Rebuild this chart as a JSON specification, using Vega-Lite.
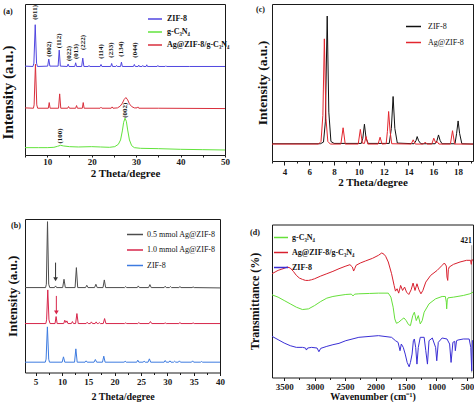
{
"$schema": "https://vega.github.io/schema/vega-lite/v6.json",
"padding": {"left": 0, "top": 3, "right": 0, "bottom": 0},
"config": {
  "font": "Liberation Serif",
  "view": {"stroke": "#1a1a1a", "strokeWidth": 1},
  "axis": {"grid": false, "domain": false, "labelFont": "Liberation Serif", "labelFontWeight": "bold", "labelFontSize": 9, "labelColor": "#1a1a1a", "titleFont": "Liberation Serif", "titleFontWeight": "bold", "titleColor": "#111111", "tickColor": "#1a1a1a", "labelOverlap": false, "labelFlush": false, "minExtent": 0},
  "text": {"font": "Liberation Serif", "fontWeight": "bold", "color": "#111111"}
},
"datasets": {
  "a": [
    {"s":"ZIF-8","x":5,"y":266},{"s":"ZIF-8","x":6.8,"y":265},{"s":"ZIF-8","x":7.0,"y":275},{"s":"ZIF-8","x":7.3,"y":390},{"s":"ZIF-8","x":7.6,"y":275},{"s":"ZIF-8","x":7.8,"y":265},
    {"s":"ZIF-8","x":10.1,"y":266},{"s":"ZIF-8","x":10.35,"y":287},{"s":"ZIF-8","x":10.6,"y":266},{"s":"ZIF-8","x":12.45,"y":266},{"s":"ZIF-8","x":12.7,"y":314},{"s":"ZIF-8","x":12.95,"y":266},
    {"s":"ZIF-8","x":14.5,"y":265},{"s":"ZIF-8","x":14.7,"y":272},{"s":"ZIF-8","x":14.9,"y":265},{"s":"ZIF-8","x":16.2,"y":265},{"s":"ZIF-8","x":16.4,"y":276},{"s":"ZIF-8","x":16.6,"y":265},
    {"s":"ZIF-8","x":17.75,"y":265},{"s":"ZIF-8","x":18.0,"y":290},{"s":"ZIF-8","x":18.25,"y":265},{"s":"ZIF-8","x":19.25,"y":265},{"s":"ZIF-8","x":19.4,"y":268},{"s":"ZIF-8","x":19.55,"y":265},
    {"s":"ZIF-8","x":21.9,"y":265},{"s":"ZIF-8","x":22.1,"y":271},{"s":"ZIF-8","x":22.3,"y":265},{"s":"ZIF-8","x":24.3,"y":265},{"s":"ZIF-8","x":24.5,"y":274},{"s":"ZIF-8","x":24.7,"y":265},
    {"s":"ZIF-8","x":25.45,"y":265},{"s":"ZIF-8","x":25.6,"y":268},{"s":"ZIF-8","x":25.75,"y":265},{"s":"ZIF-8","x":26.5,"y":265},{"s":"ZIF-8","x":26.7,"y":278},{"s":"ZIF-8","x":26.9,"y":265},
    {"s":"ZIF-8","x":29.4,"y":265},{"s":"ZIF-8","x":29.6,"y":271},{"s":"ZIF-8","x":29.8,"y":265},{"s":"ZIF-8","x":30.45,"y":265},{"s":"ZIF-8","x":30.6,"y":269},{"s":"ZIF-8","x":30.75,"y":265},
    {"s":"ZIF-8","x":31.35,"y":265},{"s":"ZIF-8","x":31.5,"y":268},{"s":"ZIF-8","x":31.65,"y":265},{"s":"ZIF-8","x":32.25,"y":265},{"s":"ZIF-8","x":32.4,"y":270},{"s":"ZIF-8","x":32.55,"y":265},
    {"s":"ZIF-8","x":34.75,"y":265},{"s":"ZIF-8","x":34.9,"y":268},{"s":"ZIF-8","x":35.05,"y":265},{"s":"ZIF-8","x":36.55,"y":265},{"s":"ZIF-8","x":36.7,"y":267},{"s":"ZIF-8","x":36.85,"y":265},
    {"s":"ZIF-8","x":42,"y":265},{"s":"ZIF-8","x":50,"y":265},
    {"s":"Ag@ZIF-8/g-C₃N₄","x":5,"y":141},{"s":"Ag@ZIF-8/g-C₃N₄","x":6.9,"y":140},{"s":"Ag@ZIF-8/g-C₃N₄","x":7.05,"y":150},{"s":"Ag@ZIF-8/g-C₃N₄","x":7.35,"y":272},{"s":"Ag@ZIF-8/g-C₃N₄","x":7.65,"y":150},{"s":"Ag@ZIF-8/g-C₃N₄","x":7.85,"y":140},
    {"s":"Ag@ZIF-8/g-C₃N₄","x":10.25,"y":140},{"s":"Ag@ZIF-8/g-C₃N₄","x":10.45,"y":157},{"s":"Ag@ZIF-8/g-C₃N₄","x":10.65,"y":140},{"s":"Ag@ZIF-8/g-C₃N₄","x":12.55,"y":140},{"s":"Ag@ZIF-8/g-C₃N₄","x":12.8,"y":183},{"s":"Ag@ZIF-8/g-C₃N₄","x":13.05,"y":140},
    {"s":"Ag@ZIF-8/g-C₃N₄","x":14.6,"y":140},{"s":"Ag@ZIF-8/g-C₃N₄","x":14.8,"y":145},{"s":"Ag@ZIF-8/g-C₃N₄","x":15.0,"y":140},{"s":"Ag@ZIF-8/g-C₃N₄","x":16.4,"y":140},{"s":"Ag@ZIF-8/g-C₃N₄","x":16.6,"y":148},{"s":"Ag@ZIF-8/g-C₃N₄","x":16.8,"y":140},
    {"s":"Ag@ZIF-8/g-C₃N₄","x":17.9,"y":140},{"s":"Ag@ZIF-8/g-C₃N₄","x":18.1,"y":157},{"s":"Ag@ZIF-8/g-C₃N₄","x":18.3,"y":140},{"s":"Ag@ZIF-8/g-C₃N₄","x":21.9,"y":140},{"s":"Ag@ZIF-8/g-C₃N₄","x":22.1,"y":143},{"s":"Ag@ZIF-8/g-C₃N₄","x":22.3,"y":140},
    {"s":"Ag@ZIF-8/g-C₃N₄","x":24.4,"y":140},{"s":"Ag@ZIF-8/g-C₃N₄","x":24.6,"y":144},{"s":"Ag@ZIF-8/g-C₃N₄","x":24.8,"y":140},{"s":"Ag@ZIF-8/g-C₃N₄","x":25.8,"y":141},{"s":"Ag@ZIF-8/g-C₃N₄","x":26.4,"y":146},{"s":"Ag@ZIF-8/g-C₃N₄","x":26.9,"y":155},
    {"s":"Ag@ZIF-8/g-C₃N₄","x":27.3,"y":166},{"s":"Ag@ZIF-8/g-C₃N₄","x":27.7,"y":172},{"s":"Ag@ZIF-8/g-C₃N₄","x":28.1,"y":165},{"s":"Ag@ZIF-8/g-C₃N₄","x":28.5,"y":153},{"s":"Ag@ZIF-8/g-C₃N₄","x":29.0,"y":145},{"s":"Ag@ZIF-8/g-C₃N₄","x":29.6,"y":141},
    {"s":"Ag@ZIF-8/g-C₃N₄","x":30.2,"y":141},{"s":"Ag@ZIF-8/g-C₃N₄","x":30.4,"y":144},{"s":"Ag@ZIF-8/g-C₃N₄","x":30.6,"y":140},{"s":"Ag@ZIF-8/g-C₃N₄","x":35,"y":140},{"s":"Ag@ZIF-8/g-C₃N₄","x":50,"y":139},
    {"s":"g-C₃N₄","x":5,"y":22},{"s":"g-C₃N₄","x":8,"y":22},{"s":"g-C₃N₄","x":10,"y":22},{"s":"g-C₃N₄","x":11.5,"y":23},{"s":"g-C₃N₄","x":12.3,"y":26},{"s":"g-C₃N₄","x":13.0,"y":29},{"s":"g-C₃N₄","x":13.7,"y":27},
    {"s":"g-C₃N₄","x":15,"y":25},{"s":"g-C₃N₄","x":17,"y":24},{"s":"g-C₃N₄","x":20,"y":25},{"s":"g-C₃N₄","x":22,"y":24},{"s":"g-C₃N₄","x":24,"y":23},{"s":"g-C₃N₄","x":25.2,"y":25},{"s":"g-C₃N₄","x":26.0,"y":32},
    {"s":"g-C₃N₄","x":26.5,"y":45},{"s":"g-C₃N₄","x":26.9,"y":72},{"s":"g-C₃N₄","x":27.2,"y":98},{"s":"g-C₃N₄","x":27.5,"y":110},{"s":"g-C₃N₄","x":27.8,"y":101},{"s":"g-C₃N₄","x":28.1,"y":75},{"s":"g-C₃N₄","x":28.5,"y":45},
    {"s":"g-C₃N₄","x":29.0,"y":28},{"s":"g-C₃N₄","x":29.6,"y":22},{"s":"g-C₃N₄","x":31,"y":20},{"s":"g-C₃N₄","x":35,"y":19},{"s":"g-C₃N₄","x":40,"y":17},{"s":"g-C₃N₄","x":45,"y":16},{"s":"g-C₃N₄","x":50,"y":15}
  ],
  "aLab": [
    {"t":"(011)","x":7.3,"y":427},{"t":"(002)","x":10.3,"y":317},{"t":"(112)","x":12.7,"y":342},{"t":"(022)","x":14.8,"y":304},{"t":"(013)","x":16.4,"y":310},{"t":"(222)","x":18.1,"y":337},
    {"t":"(114)","x":22.2,"y":310},{"t":"(233)","x":24.4,"y":314},{"t":"(134)","x":26.6,"y":317},{"t":"(044)","x":29.8,"y":314},{"t":"(100)","x":12.9,"y":57},{"t":"(002)","x":27.6,"y":134}
  ],
  "b": [
    {"s":"0.5 mmol Ag@ZIF-8","x":3,"y":255},{"s":"0.5 mmol Ag@ZIF-8","x":6.9,"y":255},{"s":"0.5 mmol Ag@ZIF-8","x":7.05,"y":265},{"s":"0.5 mmol Ag@ZIF-8","x":7.27,"y":453},{"s":"0.5 mmol Ag@ZIF-8","x":7.5,"y":265},{"s":"0.5 mmol Ag@ZIF-8","x":7.7,"y":255},
    {"s":"0.5 mmol Ag@ZIF-8","x":8.6,"y":255},{"s":"0.5 mmol Ag@ZIF-8","x":8.8,"y":260},{"s":"0.5 mmol Ag@ZIF-8","x":9.0,"y":255},{"s":"0.5 mmol Ag@ZIF-8","x":10.15,"y":255},{"s":"0.5 mmol Ag@ZIF-8","x":10.4,"y":280},{"s":"0.5 mmol Ag@ZIF-8","x":10.65,"y":255},
    {"s":"0.5 mmol Ag@ZIF-8","x":12.5,"y":255},{"s":"0.5 mmol Ag@ZIF-8","x":12.75,"y":315},{"s":"0.5 mmol Ag@ZIF-8","x":13.0,"y":255},{"s":"0.5 mmol Ag@ZIF-8","x":14.5,"y":255},{"s":"0.5 mmol Ag@ZIF-8","x":14.72,"y":262},{"s":"0.5 mmol Ag@ZIF-8","x":14.95,"y":255},
    {"s":"0.5 mmol Ag@ZIF-8","x":16.2,"y":255},{"s":"0.5 mmol Ag@ZIF-8","x":16.45,"y":265},{"s":"0.5 mmol Ag@ZIF-8","x":16.7,"y":255},{"s":"0.5 mmol Ag@ZIF-8","x":17.8,"y":255},{"s":"0.5 mmol Ag@ZIF-8","x":18.05,"y":278},{"s":"0.5 mmol Ag@ZIF-8","x":18.3,"y":255},
    {"s":"0.5 mmol Ag@ZIF-8","x":21.9,"y":255},{"s":"0.5 mmol Ag@ZIF-8","x":22.1,"y":258},{"s":"0.5 mmol Ag@ZIF-8","x":22.3,"y":255},{"s":"0.5 mmol Ag@ZIF-8","x":24.3,"y":255},{"s":"0.5 mmol Ag@ZIF-8","x":24.5,"y":260},{"s":"0.5 mmol Ag@ZIF-8","x":24.7,"y":255},
    {"s":"0.5 mmol Ag@ZIF-8","x":26.45,"y":255},{"s":"0.5 mmol Ag@ZIF-8","x":26.7,"y":264},{"s":"0.5 mmol Ag@ZIF-8","x":26.95,"y":255},{"s":"0.5 mmol Ag@ZIF-8","x":29.4,"y":255},{"s":"0.5 mmol Ag@ZIF-8","x":29.6,"y":259},{"s":"0.5 mmol Ag@ZIF-8","x":29.8,"y":255},
    {"s":"0.5 mmol Ag@ZIF-8","x":30.4,"y":255},{"s":"0.5 mmol Ag@ZIF-8","x":30.6,"y":258},{"s":"0.5 mmol Ag@ZIF-8","x":30.8,"y":255},{"s":"0.5 mmol Ag@ZIF-8","x":32.2,"y":255},{"s":"0.5 mmol Ag@ZIF-8","x":32.4,"y":258},{"s":"0.5 mmol Ag@ZIF-8","x":32.6,"y":255},
    {"s":"0.5 mmol Ag@ZIF-8","x":34.7,"y":255},{"s":"0.5 mmol Ag@ZIF-8","x":34.9,"y":257},{"s":"0.5 mmol Ag@ZIF-8","x":35.1,"y":255},{"s":"0.5 mmol Ag@ZIF-8","x":40,"y":254},
    {"s":"1.0 mmol Ag@ZIF-8","x":3,"y":147},{"s":"1.0 mmol Ag@ZIF-8","x":6.95,"y":147},{"s":"1.0 mmol Ag@ZIF-8","x":7.1,"y":158},{"s":"1.0 mmol Ag@ZIF-8","x":7.32,"y":248},{"s":"1.0 mmol Ag@ZIF-8","x":7.55,"y":158},{"s":"1.0 mmol Ag@ZIF-8","x":7.75,"y":147},
    {"s":"1.0 mmol Ag@ZIF-8","x":8.7,"y":147},{"s":"1.0 mmol Ag@ZIF-8","x":8.9,"y":168},{"s":"1.0 mmol Ag@ZIF-8","x":9.1,"y":147},{"s":"1.0 mmol Ag@ZIF-8","x":10.35,"y":147},{"s":"1.0 mmol Ag@ZIF-8","x":10.55,"y":157},{"s":"1.0 mmol Ag@ZIF-8","x":10.75,"y":150},
    {"s":"1.0 mmol Ag@ZIF-8","x":10.95,"y":155},{"s":"1.0 mmol Ag@ZIF-8","x":11.15,"y":147},{"s":"1.0 mmol Ag@ZIF-8","x":11.8,"y":147},{"s":"1.0 mmol Ag@ZIF-8","x":12.0,"y":153},{"s":"1.0 mmol Ag@ZIF-8","x":12.2,"y":147},{"s":"1.0 mmol Ag@ZIF-8","x":12.6,"y":147},
    {"s":"1.0 mmol Ag@ZIF-8","x":12.85,"y":177},{"s":"1.0 mmol Ag@ZIF-8","x":13.1,"y":147},{"s":"1.0 mmol Ag@ZIF-8","x":14.6,"y":147},{"s":"1.0 mmol Ag@ZIF-8","x":14.8,"y":151},{"s":"1.0 mmol Ag@ZIF-8","x":15.0,"y":147},{"s":"1.0 mmol Ag@ZIF-8","x":15.4,"y":147},
    {"s":"1.0 mmol Ag@ZIF-8","x":15.6,"y":152},{"s":"1.0 mmol Ag@ZIF-8","x":15.8,"y":147},{"s":"1.0 mmol Ag@ZIF-8","x":16.3,"y":147},{"s":"1.0 mmol Ag@ZIF-8","x":16.5,"y":152},{"s":"1.0 mmol Ag@ZIF-8","x":16.7,"y":147},{"s":"1.0 mmol Ag@ZIF-8","x":16.9,"y":147},
    {"s":"1.0 mmol Ag@ZIF-8","x":17.1,"y":150},{"s":"1.0 mmol Ag@ZIF-8","x":17.3,"y":147},{"s":"1.0 mmol Ag@ZIF-8","x":17.85,"y":147},{"s":"1.0 mmol Ag@ZIF-8","x":18.1,"y":162},{"s":"1.0 mmol Ag@ZIF-8","x":18.35,"y":147},{"s":"1.0 mmol Ag@ZIF-8","x":21.9,"y":147},
    {"s":"1.0 mmol Ag@ZIF-8","x":22.1,"y":149},{"s":"1.0 mmol Ag@ZIF-8","x":22.3,"y":147},{"s":"1.0 mmol Ag@ZIF-8","x":24.4,"y":147},{"s":"1.0 mmol Ag@ZIF-8","x":24.6,"y":150},{"s":"1.0 mmol Ag@ZIF-8","x":24.8,"y":147},{"s":"1.0 mmol Ag@ZIF-8","x":26.55,"y":147},
    {"s":"1.0 mmol Ag@ZIF-8","x":26.8,"y":153},{"s":"1.0 mmol Ag@ZIF-8","x":27.05,"y":147},{"s":"1.0 mmol Ag@ZIF-8","x":29.4,"y":147},{"s":"1.0 mmol Ag@ZIF-8","x":29.6,"y":149},{"s":"1.0 mmol Ag@ZIF-8","x":29.8,"y":147},{"s":"1.0 mmol Ag@ZIF-8","x":32.2,"y":147},
    {"s":"1.0 mmol Ag@ZIF-8","x":32.4,"y":150},{"s":"1.0 mmol Ag@ZIF-8","x":32.6,"y":147},{"s":"1.0 mmol Ag@ZIF-8","x":34.7,"y":147},{"s":"1.0 mmol Ag@ZIF-8","x":34.9,"y":149},{"s":"1.0 mmol Ag@ZIF-8","x":35.1,"y":147},{"s":"1.0 mmol Ag@ZIF-8","x":40,"y":147},
    {"s":"ZIF-8","x":3,"y":31},{"s":"ZIF-8","x":6.85,"y":31},{"s":"ZIF-8","x":7.0,"y":40},{"s":"ZIF-8","x":7.25,"y":137},{"s":"ZIF-8","x":7.5,"y":40},{"s":"ZIF-8","x":7.65,"y":31},
    {"s":"ZIF-8","x":10.05,"y":31},{"s":"ZIF-8","x":10.3,"y":47},{"s":"ZIF-8","x":10.55,"y":31},{"s":"ZIF-8","x":12.4,"y":31},{"s":"ZIF-8","x":12.65,"y":71},{"s":"ZIF-8","x":12.9,"y":31},
    {"s":"ZIF-8","x":14.4,"y":31},{"s":"ZIF-8","x":14.6,"y":35},{"s":"ZIF-8","x":14.8,"y":31},{"s":"ZIF-8","x":16.1,"y":31},{"s":"ZIF-8","x":16.35,"y":39},{"s":"ZIF-8","x":16.6,"y":31},
    {"s":"ZIF-8","x":17.7,"y":31},{"s":"ZIF-8","x":17.95,"y":49},{"s":"ZIF-8","x":18.2,"y":31},{"s":"ZIF-8","x":21.8,"y":31},{"s":"ZIF-8","x":22.0,"y":34},{"s":"ZIF-8","x":22.2,"y":31},
    {"s":"ZIF-8","x":24.2,"y":31},{"s":"ZIF-8","x":24.4,"y":37},{"s":"ZIF-8","x":24.6,"y":31},{"s":"ZIF-8","x":25.4,"y":31},{"s":"ZIF-8","x":25.6,"y":34},{"s":"ZIF-8","x":25.8,"y":31},
    {"s":"ZIF-8","x":26.35,"y":31},{"s":"ZIF-8","x":26.6,"y":41},{"s":"ZIF-8","x":26.85,"y":31},{"s":"ZIF-8","x":29.4,"y":31},{"s":"ZIF-8","x":29.6,"y":36},{"s":"ZIF-8","x":29.8,"y":31},
    {"s":"ZIF-8","x":30.3,"y":31},{"s":"ZIF-8","x":30.5,"y":35},{"s":"ZIF-8","x":30.7,"y":31},{"s":"ZIF-8","x":31.2,"y":31},{"s":"ZIF-8","x":31.4,"y":34},{"s":"ZIF-8","x":31.6,"y":31},
    {"s":"ZIF-8","x":32.1,"y":31},{"s":"ZIF-8","x":32.3,"y":35},{"s":"ZIF-8","x":32.5,"y":31},{"s":"ZIF-8","x":34.6,"y":31},{"s":"ZIF-8","x":34.8,"y":35},{"s":"ZIF-8","x":35.0,"y":31},
    {"s":"ZIF-8","x":36.3,"y":31},{"s":"ZIF-8","x":36.5,"y":33},{"s":"ZIF-8","x":36.7,"y":31},{"s":"ZIF-8","x":40,"y":31}
  ],
  "c": [
    {"s":"ZIF-8","x":3,"y":53},{"s":"ZIF-8","x":6.9,"y":53},{"s":"ZIF-8","x":7.15,"y":58},{"s":"ZIF-8","x":7.3,"y":120},{"s":"ZIF-8","x":7.45,"y":445},{"s":"ZIF-8","x":7.58,"y":150},{"s":"ZIF-8","x":7.75,"y":60},{"s":"ZIF-8","x":8.0,"y":54},
    {"s":"ZIF-8","x":10.2,"y":54},{"s":"ZIF-8","x":10.32,"y":70},{"s":"ZIF-8","x":10.45,"y":113},{"s":"ZIF-8","x":10.58,"y":70},{"s":"ZIF-8","x":10.75,"y":54},
    {"s":"ZIF-8","x":12.45,"y":54},{"s":"ZIF-8","x":12.62,"y":100},{"s":"ZIF-8","x":12.76,"y":198},{"s":"ZIF-8","x":12.9,"y":100},{"s":"ZIF-8","x":13.1,"y":55},
    {"s":"ZIF-8","x":14.45,"y":53},{"s":"ZIF-8","x":14.6,"y":62},{"s":"ZIF-8","x":14.7,"y":75},{"s":"ZIF-8","x":14.82,"y":62},{"s":"ZIF-8","x":15.0,"y":53},
    {"s":"ZIF-8","x":16.15,"y":53},{"s":"ZIF-8","x":16.3,"y":63},{"s":"ZIF-8","x":16.42,"y":80},{"s":"ZIF-8","x":16.55,"y":63},{"s":"ZIF-8","x":16.7,"y":53},
    {"s":"ZIF-8","x":17.75,"y":53},{"s":"ZIF-8","x":17.88,"y":85},{"s":"ZIF-8","x":18.0,"y":123},{"s":"ZIF-8","x":18.12,"y":85},{"s":"ZIF-8","x":18.3,"y":53},{"s":"ZIF-8","x":19.2,"y":52},
    {"s":"Ag@ZIF-8","x":3,"y":52},{"s":"Ag@ZIF-8","x":6.75,"y":52},{"s":"Ag@ZIF-8","x":6.95,"y":60},{"s":"Ag@ZIF-8","x":7.1,"y":140},{"s":"Ag@ZIF-8","x":7.22,"y":375},{"s":"Ag@ZIF-8","x":7.35,"y":130},{"s":"Ag@ZIF-8","x":7.5,"y":60},{"s":"Ag@ZIF-8","x":7.7,"y":52},
    {"s":"Ag@ZIF-8","x":8.55,"y":52},{"s":"Ag@ZIF-8","x":8.73,"y":102},{"s":"Ag@ZIF-8","x":8.9,"y":52},{"s":"Ag@ZIF-8","x":9.95,"y":52},{"s":"Ag@ZIF-8","x":10.12,"y":97},{"s":"Ag@ZIF-8","x":10.28,"y":55},
    {"s":"Ag@ZIF-8","x":10.45,"y":54},{"s":"Ag@ZIF-8","x":10.58,"y":75},{"s":"Ag@ZIF-8","x":10.72,"y":52},{"s":"Ag@ZIF-8","x":11.55,"y":52},{"s":"Ag@ZIF-8","x":11.71,"y":73},{"s":"Ag@ZIF-8","x":11.87,"y":52},
    {"s":"Ag@ZIF-8","x":12.2,"y":53},{"s":"Ag@ZIF-8","x":12.3,"y":90},{"s":"Ag@ZIF-8","x":12.4,"y":152},{"s":"Ag@ZIF-8","x":12.52,"y":90},{"s":"Ag@ZIF-8","x":12.65,"y":53},
    {"s":"Ag@ZIF-8","x":14.22,"y":52},{"s":"Ag@ZIF-8","x":14.38,"y":65},{"s":"Ag@ZIF-8","x":14.55,"y":52},{"s":"Ag@ZIF-8","x":15.2,"y":52},{"s":"Ag@ZIF-8","x":15.35,"y":58},{"s":"Ag@ZIF-8","x":15.5,"y":52},
    {"s":"Ag@ZIF-8","x":15.88,"y":52},{"s":"Ag@ZIF-8","x":16.04,"y":70},{"s":"Ag@ZIF-8","x":16.2,"y":55},{"s":"Ag@ZIF-8","x":16.3,"y":60},{"s":"Ag@ZIF-8","x":16.45,"y":52},
    {"s":"Ag@ZIF-8","x":17.38,"y":52},{"s":"Ag@ZIF-8","x":17.55,"y":93},{"s":"Ag@ZIF-8","x":17.72,"y":52},{"s":"Ag@ZIF-8","x":19.2,"y":52}
  ],
  "d": [
    {"s":"Ag@ZIF-8/g-C₃N₄","x":3700,"y":310},{"s":"Ag@ZIF-8/g-C₃N₄","x":3650,"y":315},{"s":"Ag@ZIF-8/g-C₃N₄","x":3600,"y":320},{"s":"Ag@ZIF-8/g-C₃N₄","x":3550,"y":323},{"s":"Ag@ZIF-8/g-C₃N₄","x":3500,"y":326},{"s":"Ag@ZIF-8/g-C₃N₄","x":3450,"y":330},
    {"s":"Ag@ZIF-8/g-C₃N₄","x":3400,"y":327},{"s":"Ag@ZIF-8/g-C₃N₄","x":3350,"y":317},{"s":"Ag@ZIF-8/g-C₃N₄","x":3300,"y":305},{"s":"Ag@ZIF-8/g-C₃N₄","x":3250,"y":297},{"s":"Ag@ZIF-8/g-C₃N₄","x":3200,"y":293},{"s":"Ag@ZIF-8/g-C₃N₄","x":3150,"y":290},
    {"s":"Ag@ZIF-8/g-C₃N₄","x":3100,"y":290},{"s":"Ag@ZIF-8/g-C₃N₄","x":3050,"y":292},{"s":"Ag@ZIF-8/g-C₃N₄","x":3000,"y":295},{"s":"Ag@ZIF-8/g-C₃N₄","x":2900,"y":303},{"s":"Ag@ZIF-8/g-C₃N₄","x":2800,"y":310},{"s":"Ag@ZIF-8/g-C₃N₄","x":2700,"y":317},
    {"s":"Ag@ZIF-8/g-C₃N₄","x":2600,"y":325},{"s":"Ag@ZIF-8/g-C₃N₄","x":2500,"y":332},{"s":"Ag@ZIF-8/g-C₃N₄","x":2420,"y":337},{"s":"Ag@ZIF-8/g-C₃N₄","x":2380,"y":330},{"s":"Ag@ZIF-8/g-C₃N₄","x":2360,"y":318},{"s":"Ag@ZIF-8/g-C₃N₄","x":2340,"y":326},
    {"s":"Ag@ZIF-8/g-C₃N₄","x":2320,"y":335},{"s":"Ag@ZIF-8/g-C₃N₄","x":2250,"y":342},{"s":"Ag@ZIF-8/g-C₃N₄","x":2166,"y":348},{"s":"Ag@ZIF-8/g-C₃N₄","x":2050,"y":356},{"s":"Ag@ZIF-8/g-C₃N₄","x":1952,"y":365},{"s":"Ag@ZIF-8/g-C₃N₄","x":1898,"y":372},
    {"s":"Ag@ZIF-8/g-C₃N₄","x":1860,"y":368},{"s":"Ag@ZIF-8/g-C₃N₄","x":1834,"y":362},{"s":"Ag@ZIF-8/g-C₃N₄","x":1791,"y":345},{"s":"Ag@ZIF-8/g-C₃N₄","x":1737,"y":310},{"s":"Ag@ZIF-8/g-C₃N₄","x":1695,"y":275},{"s":"Ag@ZIF-8/g-C₃N₄","x":1673,"y":258},
    {"s":"Ag@ZIF-8/g-C₃N₄","x":1646,"y":265},{"s":"Ag@ZIF-8/g-C₃N₄","x":1620,"y":252},{"s":"Ag@ZIF-8/g-C₃N₄","x":1588,"y":275},{"s":"Ag@ZIF-8/g-C₃N₄","x":1556,"y":260},{"s":"Ag@ZIF-8/g-C₃N₄","x":1523,"y":270},{"s":"Ag@ZIF-8/g-C₃N₄","x":1491,"y":255},
    {"s":"Ag@ZIF-8/g-C₃N₄","x":1454,"y":248},{"s":"Ag@ZIF-8/g-C₃N₄","x":1416,"y":262},{"s":"Ag@ZIF-8/g-C₃N₄","x":1384,"y":282},{"s":"Ag@ZIF-8/g-C₃N₄","x":1352,"y":260},{"s":"Ag@ZIF-8/g-C₃N₄","x":1320,"y":280},{"s":"Ag@ZIF-8/g-C₃N₄","x":1288,"y":262},
    {"s":"Ag@ZIF-8/g-C₃N₄","x":1255,"y":250},{"s":"Ag@ZIF-8/g-C₃N₄","x":1223,"y":260},{"s":"Ag@ZIF-8/g-C₃N₄","x":1175,"y":285},{"s":"Ag@ZIF-8/g-C₃N₄","x":1095,"y":305},{"s":"Ag@ZIF-8/g-C₃N₄","x":988,"y":320},{"s":"Ag@ZIF-8/g-C₃N₄","x":907,"y":335},
    {"s":"Ag@ZIF-8/g-C₃N₄","x":870,"y":342},{"s":"Ag@ZIF-8/g-C₃N₄","x":838,"y":333},{"s":"Ag@ZIF-8/g-C₃N₄","x":827,"y":300},{"s":"Ag@ZIF-8/g-C₃N₄","x":815,"y":290},{"s":"Ag@ZIF-8/g-C₃N₄","x":805,"y":322},{"s":"Ag@ZIF-8/g-C₃N₄","x":790,"y":330},
    {"s":"Ag@ZIF-8/g-C₃N₄","x":720,"y":338},{"s":"Ag@ZIF-8/g-C₃N₄","x":613,"y":345},{"s":"Ag@ZIF-8/g-C₃N₄","x":506,"y":350},{"s":"Ag@ZIF-8/g-C₃N₄","x":440,"y":350},{"s":"Ag@ZIF-8/g-C₃N₄","x":428,"y":338},{"s":"Ag@ZIF-8/g-C₃N₄","x":418,"y":352},{"s":"Ag@ZIF-8/g-C₃N₄","x":400,"y":350},
    {"s":"g-C₃N₄","x":3700,"y":247},{"s":"g-C₃N₄","x":3600,"y":240},{"s":"g-C₃N₄","x":3500,"y":230},{"s":"g-C₃N₄","x":3400,"y":220},{"s":"g-C₃N₄","x":3300,"y":210},{"s":"g-C₃N₄","x":3200,"y":203},
    {"s":"g-C₃N₄","x":3100,"y":205},{"s":"g-C₃N₄","x":3000,"y":215},{"s":"g-C₃N₄","x":2900,"y":227},{"s":"g-C₃N₄","x":2800,"y":237},{"s":"g-C₃N₄","x":2700,"y":242},{"s":"g-C₃N₄","x":2600,"y":245},
    {"s":"g-C₃N₄","x":2488,"y":248},{"s":"g-C₃N₄","x":2400,"y":249},{"s":"g-C₃N₄","x":2370,"y":244},{"s":"g-C₃N₄","x":2340,"y":249},{"s":"g-C₃N₄","x":2274,"y":250},{"s":"g-C₃N₄","x":2100,"y":251},
    {"s":"g-C₃N₄","x":1952,"y":252},{"s":"g-C₃N₄","x":1791,"y":252},{"s":"g-C₃N₄","x":1748,"y":240},{"s":"g-C₃N₄","x":1711,"y":210},{"s":"g-C₃N₄","x":1684,"y":175},{"s":"g-C₃N₄","x":1657,"y":162},
    {"s":"g-C₃N₄","x":1620,"y":165},{"s":"g-C₃N₄","x":1577,"y":172},{"s":"g-C₃N₄","x":1534,"y":178},{"s":"g-C₃N₄","x":1497,"y":170},{"s":"g-C₃N₄","x":1459,"y":158},{"s":"g-C₃N₄","x":1427,"y":155},
    {"s":"g-C₃N₄","x":1389,"y":185},{"s":"g-C₃N₄","x":1363,"y":195},{"s":"g-C₃N₄","x":1331,"y":170},{"s":"g-C₃N₄","x":1298,"y":185},{"s":"g-C₃N₄","x":1266,"y":160},{"s":"g-C₃N₄","x":1234,"y":170},
    {"s":"g-C₃N₄","x":1202,"y":195},{"s":"g-C₃N₄","x":1122,"y":220},{"s":"g-C₃N₄","x":1014,"y":235},{"s":"g-C₃N₄","x":907,"y":242},{"s":"g-C₃N₄","x":854,"y":242},{"s":"g-C₃N₄","x":838,"y":225},
    {"s":"g-C₃N₄","x":832,"y":205},{"s":"g-C₃N₄","x":822,"y":232},{"s":"g-C₃N₄","x":810,"y":238},{"s":"g-C₃N₄","x":720,"y":240},{"s":"g-C₃N₄","x":559,"y":245},{"s":"g-C₃N₄","x":452,"y":250},{"s":"g-C₃N₄","x":400,"y":255},
    {"s":"ZIF-8","x":3700,"y":123},{"s":"ZIF-8","x":3600,"y":113},{"s":"ZIF-8","x":3500,"y":103},{"s":"ZIF-8","x":3400,"y":95},{"s":"ZIF-8","x":3300,"y":90},{"s":"ZIF-8","x":3200,"y":90},
    {"s":"ZIF-8","x":3150,"y":88},{"s":"ZIF-8","x":3135,"y":82},{"s":"ZIF-8","x":3115,"y":88},{"s":"ZIF-8","x":3050,"y":90},{"s":"ZIF-8","x":2960,"y":88},{"s":"ZIF-8","x":2930,"y":77},
    {"s":"ZIF-8","x":2900,"y":87},{"s":"ZIF-8","x":2800,"y":93},{"s":"ZIF-8","x":2700,"y":98},{"s":"ZIF-8","x":2600,"y":102},{"s":"ZIF-8","x":2488,"y":110},{"s":"ZIF-8","x":2274,"y":120},
    {"s":"ZIF-8","x":1952,"y":125},{"s":"ZIF-8","x":1737,"y":120},{"s":"ZIF-8","x":1673,"y":110},{"s":"ZIF-8","x":1630,"y":105},{"s":"ZIF-8","x":1598,"y":80},{"s":"ZIF-8","x":1577,"y":100},
    {"s":"ZIF-8","x":1545,"y":90},{"s":"ZIF-8","x":1513,"y":70},{"s":"ZIF-8","x":1481,"y":45},{"s":"ZIF-8","x":1448,"y":32},{"s":"ZIF-8","x":1427,"y":45},{"s":"ZIF-8","x":1400,"y":70},
    {"s":"ZIF-8","x":1379,"y":110},{"s":"ZIF-8","x":1363,"y":115},{"s":"ZIF-8","x":1341,"y":90},{"s":"ZIF-8","x":1320,"y":40},{"s":"ZIF-8","x":1298,"y":90},{"s":"ZIF-8","x":1266,"y":120},
    {"s":"ZIF-8","x":1202,"y":120},{"s":"ZIF-8","x":1175,"y":80},{"s":"ZIF-8","x":1148,"y":40},{"s":"ZIF-8","x":1122,"y":110},{"s":"ZIF-8","x":1068,"y":118},{"s":"ZIF-8","x":1014,"y":90},
    {"s":"ZIF-8","x":995,"y":50},{"s":"ZIF-8","x":970,"y":105},{"s":"ZIF-8","x":907,"y":118},{"s":"ZIF-8","x":827,"y":115},{"s":"ZIF-8","x":784,"y":100},{"s":"ZIF-8","x":760,"y":45},
    {"s":"ZIF-8","x":730,"y":105},{"s":"ZIF-8","x":700,"y":108},{"s":"ZIF-8","x":690,"y":80},{"s":"ZIF-8","x":670,"y":110},{"s":"ZIF-8","x":645,"y":112},{"s":"ZIF-8","x":559,"y":115},
    {"s":"ZIF-8","x":463,"y":115},{"s":"ZIF-8","x":436,"y":90},{"s":"ZIF-8","x":421,"y":20},{"s":"ZIF-8","x":410,"y":110},{"s":"ZIF-8","x":400,"y":112}
  ]
},
"hconcat": [
  {
    "spacing": 39,
    "resolve": {"scale": {"x": "independent", "y": "independent", "color": "independent"}, "axis": {"x": "independent", "y": "independent"}, "legend": {"color": "independent"}},
    "vconcat": [
      {
        "width": 200, "height": 151,
        "encoding": {
          "x": {"field": "x", "type": "quantitative", "scale": {"domain": [5, 50], "nice": false, "zero": false},
                "axis": {"title": "2 Theta/degree", "titleFontSize": 11, "titlePadding": 1, "values": [5,10,15,20,25,30,35,40,45,50], "labelExpr": "datum.value % 10 === 0 ? datum.label : ''", "tickSize": 2, "labelPadding": 0}},
          "y": {"field": "y", "type": "quantitative", "scale": {"domain": [0, 452], "nice": false, "zero": false},
                "axis": {"title": "Intensity (a.u.)", "titleFontSize": 15, "labels": false, "ticks": false, "titlePadding": 9.5, "titleY": 88}}
        },
        "layer": [
          {"data": {"name": "a"}, "mark": {"type": "line", "strokeWidth": 1},
           "encoding": {"color": {"field": "s", "type": "nominal",
             "scale": {"domain": ["ZIF-8", "g-C₃N₄", "Ag@ZIF-8/g-C₃N₄"], "range": ["#5046e0", "#62e33c", "#d92f3c"]},
             "legend": {"orient": "none", "legendX": 122, "legendY": 7, "title": null, "symbolType": "stroke", "symbolSize": 196, "symbolStrokeWidth": 1.5, "labelFont": "Liberation Serif", "labelFontSize": 8, "labelFontWeight": "bold", "labelColor": "#111111", "rowPadding": 1, "labelOffset": 4, "padding": 0}}}},
          {"data": {"name": "aLab"}, "mark": {"type": "text", "angle": 270, "fontSize": 7}, "encoding": {"text": {"field": "t"}}},
          {"data": {"values": [{"x": 1.17, "y": 428, "t": "(a)"}]}, "mark": {"type": "text", "fontSize": 8}, "encoding": {"text": {"field": "t"}}}
        ]
      },
      {
        "width": 195, "height": 153.5,
        "encoding": {
          "x": {"field": "x", "type": "quantitative", "scale": {"domain": [3, 40], "nice": false, "zero": false},
                "axis": {"title": "2 Theta/degree", "titleFontSize": 10, "titlePadding": 5, "values": [5,7.5,10,12.5,15,17.5,20,22.5,25,27.5,30,32.5,35,37.5,40], "labelExpr": "datum.value % 5 === 0 ? datum.label : ''", "tickSize": {"condition": {"test": "datum.value % 5 === 0", "value": 3}, "value": 2}, "labelPadding": 2}},
          "y": {"field": "y", "type": "quantitative", "scale": {"domain": [0, 461], "nice": false, "zero": false},
                "axis": {"title": "Intensity (a.u.)", "titleFontSize": 13, "labels": false, "ticks": false, "titlePadding": 5.5}}
        },
        "layer": [
          {"data": {"name": "b"}, "mark": {"type": "line", "strokeWidth": 1},
           "encoding": {"color": {"field": "s", "type": "nominal",
             "scale": {"domain": ["0.5 mmol Ag@ZIF-8", "1.0 mmol Ag@ZIF-8", "ZIF-8"], "range": ["#4d4d4d", "#d7264b", "#3d7be0"]},
             "legend": {"orient": "none", "legendX": 101, "legendY": 6.5, "title": null, "symbolType": "stroke", "symbolSize": 256, "symbolStrokeWidth": 1.5, "labelFont": "Liberation Serif", "labelFontSize": 8, "labelFontWeight": "normal", "labelColor": "#111111", "rowPadding": 2.5, "labelOffset": 3, "padding": 0}}}},
          {"data": {"values": [{"x": 8.8, "y": 330, "y2": 284}]}, "mark": {"type": "rule", "color": "#333333", "strokeWidth": 1}, "encoding": {"y2": {"field": "y2"}}},
          {"data": {"values": [{"x": 8.8, "y": 280}]}, "mark": {"type": "point", "shape": "triangle-down", "filled": true, "size": 22, "color": "#333333", "opacity": 1}},
          {"data": {"values": [{"x": 8.95, "y": 230, "y2": 184}]}, "mark": {"type": "rule", "color": "#d7264b", "strokeWidth": 1}, "encoding": {"y2": {"field": "y2"}}},
          {"data": {"values": [{"x": 8.95, "y": 180}]}, "mark": {"type": "point", "shape": "triangle-down", "filled": true, "size": 22, "color": "#d7264b", "opacity": 1}},
          {"data": {"values": [{"x": 1.29, "y": 441, "t": "(b)"}]}, "mark": {"type": "text", "fontSize": 8}, "encoding": {"text": {"field": "t"}}}
        ]
      }
    ]
  },
  {
    "spacing": 35.5,
    "resolve": {"scale": {"x": "independent", "y": "independent", "color": "independent"}, "axis": {"x": "independent", "y": "independent"}, "legend": {"color": "independent"}},
    "vconcat": [
      {
        "width": 201, "height": 157,
        "encoding": {
          "x": {"field": "x", "type": "quantitative", "scale": {"domain": [3, 19.2], "nice": false, "zero": false},
                "axis": {"title": "2 Theta/degree", "titleFontSize": 11, "titlePadding": 0, "values": [3,4,5,6,7,8,9,10,11,12,13,14,15,16,17,18,19], "labelExpr": "datum.value % 2 === 0 ? datum.label : ''", "tickSize": {"condition": {"test": "datum.value % 2 === 0", "value": 4}, "value": 2}, "labelPadding": 2}},
          "y": {"field": "y", "type": "quantitative", "scale": {"domain": [0, 482], "nice": false, "zero": false},
                "axis": {"title": "Intensity (a.u.)", "titleFontSize": 13.5, "labels": false, "ticks": false, "titlePadding": 2.5}}
        },
        "layer": [
          {"data": {"name": "c"}, "mark": {"type": "line", "strokeWidth": 1},
           "encoding": {"color": {"field": "s", "type": "nominal",
             "scale": {"domain": ["ZIF-8", "Ag@ZIF-8"], "range": ["#111111", "#e3262e"]},
             "legend": {"orient": "none", "legendX": 133, "legendY": 14, "title": null, "symbolType": "stroke", "symbolSize": 225, "symbolStrokeWidth": 1.5, "labelFont": "Liberation Serif", "labelFontSize": 8, "labelFontWeight": "normal", "labelColor": "#111111", "rowPadding": 3, "labelOffset": 6, "padding": 0}}}},
          {"data": {"values": [{"x": 2.07, "y": 464, "t": "(c)"}]}, "mark": {"type": "text", "fontSize": 8}, "encoding": {"text": {"field": "t"}}}
        ]
      },
      {
        "width": 201, "height": 153,
        "encoding": {
          "x": {"field": "x", "type": "quantitative", "scale": {"domain": [400, 3700], "reverse": true, "nice": false, "zero": false},
                "axis": {"title": "Wavenumber (cm⁻¹)", "titleFontSize": 10, "titlePadding": 0, "format": "d", "values": [500,750,1000,1250,1500,1750,2000,2250,2500,2750,3000,3250,3500], "labelExpr": "datum.value % 500 === 0 ? datum.label : ''", "tickSize": {"condition": {"test": "datum.value % 500 === 0", "value": 3}, "value": 2}, "labelPadding": 1.5}},
          "y": {"field": "y", "type": "quantitative", "scale": {"domain": [0, 457], "nice": false, "zero": false},
                "axis": {"title": "Transmittance (%)", "titleFontSize": 12, "labels": false, "ticks": false, "titlePadding": 11}}
        },
        "layer": [
          {"data": {"values": [{"x": 421, "y": 15, "y2": 395}]}, "mark": {"type": "rule", "color": "#9a9a9a", "strokeWidth": 1}, "encoding": {"y2": {"field": "y2"}}},
          {"data": {"name": "d"}, "mark": {"type": "line", "strokeWidth": 1},
           "encoding": {"color": {"field": "s", "type": "nominal",
             "scale": {"domain": ["g-C₃N₄", "Ag@ZIF-8/g-C₃N₄", "ZIF-8"], "range": ["#66e03a", "#d8202e", "#3a2fd5"]},
             "legend": {"orient": "none", "legendX": 1, "legendY": 5, "title": null, "symbolType": "stroke", "symbolSize": 196, "symbolStrokeWidth": 1.5, "labelFont": "Liberation Serif", "labelFontSize": 8, "labelFontWeight": "bold", "labelColor": "#111111", "rowPadding": 3, "labelOffset": 3, "padding": 0}}}},
          {"data": {"values": [{"x": 421, "y": 407, "t": "421"}]}, "mark": {"type": "text", "fontSize": 7.5, "align": "right"}, "encoding": {"text": {"field": "t"}}},
          {"data": {"values": [{"x": 3979, "y": 433, "t": "(d)"}]}, "mark": {"type": "text", "fontSize": 8}, "encoding": {"text": {"field": "t"}}}
        ]
      }
    ]
  }
],
"spacing": 16,
"resolve": {"scale": {"x": "independent", "y": "independent", "color": "independent"}, "axis": {"x": "independent", "y": "independent"}, "legend": {"color": "independent"}}
}
